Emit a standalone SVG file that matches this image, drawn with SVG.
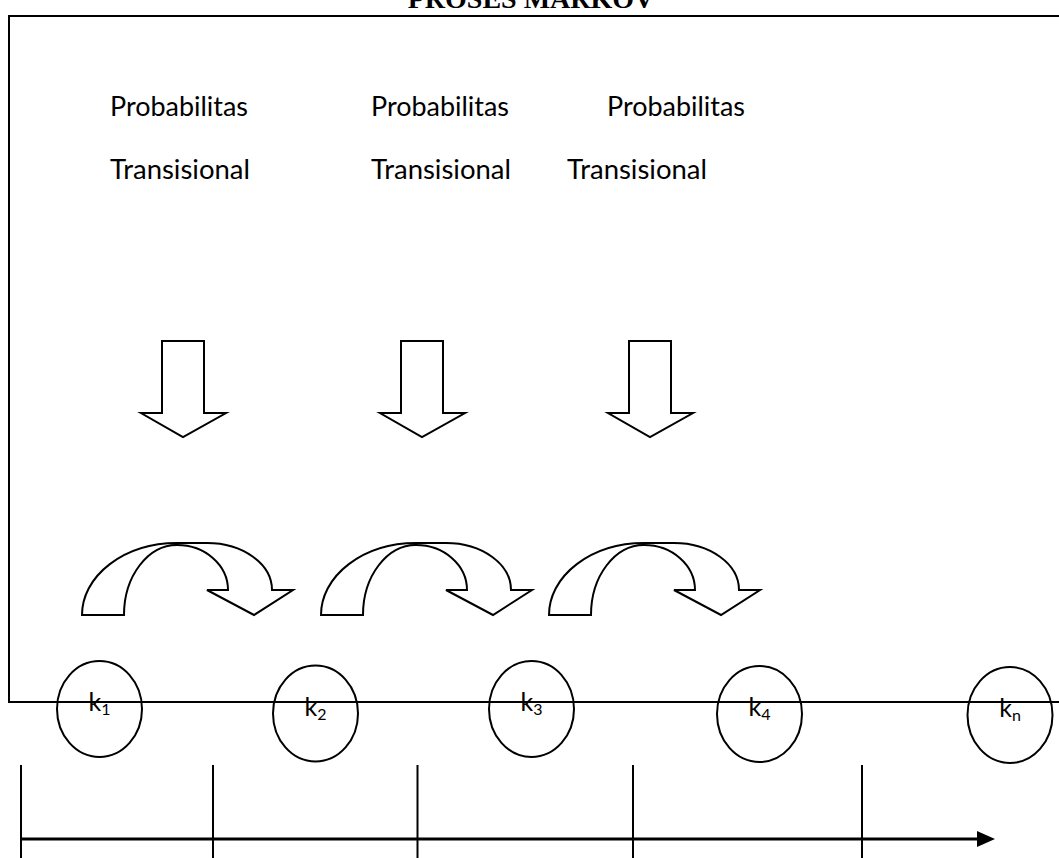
<svg xmlns="http://www.w3.org/2000/svg" width="1059" height="858" viewBox="0 0 1059 858">
<style>
.ln{stroke:#000;stroke-width:2;fill:none}
.shape{stroke:#000;stroke-width:2;fill:#fff;stroke-linejoin:miter}
.lbl{font-family:Lato,"Open Sans","Liberation Sans",sans-serif;font-size:26px;fill:#000}
.k{font-family:Lato,"Open Sans","Liberation Sans",sans-serif;font-size:25px;fill:#000;text-anchor:middle}
.sub{font-size:16px}
.title{font-family:"Liberation Serif","Times New Roman",serif;font-weight:bold;font-size:28px;text-anchor:middle;fill:#000}
</style>
<defs>
<path id="curved" d="M 82,615 A 95,72 0 0 1 177,543 L 207,543 A 65,47 0 0 1 272,590 L 293,590 L 254,615 L 207,590 L 228,590 A 51,45 0 0 0 177,545 A 53,70 0 0 0 124,615 Z"/>
<polygon id="down" points="162,341 204,341 204,413 226,413 183,437 141,413 162,413"/>
<marker id="arr" markerWidth="10" markerHeight="10" refX="9" refY="5" orient="auto" markerUnits="userSpaceOnUse">
<path d="M0,0 L10,5 L0,10 Z" fill="#000"/>
</marker>
</defs>
<rect width="1059" height="858" fill="#fff"/>
<text id="title" class="title" x="531" y="8">PROSES MARKOV</text>
<g id="connectors">
<path class="ln" d="M 1059,16 L 9,16 L 9,702 L 1059,702"/>
<line class="ln" x1="21" y1="765" x2="21" y2="858"/>
<line class="ln" x1="213" y1="765" x2="213" y2="858"/>
<line class="ln" x1="417.5" y1="765" x2="417.5" y2="858"/>
<line class="ln" x1="633" y1="765" x2="633" y2="858"/>
<line class="ln" x1="862" y1="765" x2="862" y2="858"/>
<line x1="21" y1="839" x2="978" y2="839" stroke="#000" stroke-width="3"/>
<polygon points="977,831 995,839 977,847" fill="#000"/>
</g>
<g id="label1">
<text class="lbl" x="110" y="116" textLength="138" lengthAdjust="spacingAndGlyphs">Probabilitas</text>
<text class="lbl" x="110" y="179" textLength="140" lengthAdjust="spacingAndGlyphs">Transisional</text>
</g>
<g id="label2">
<text class="lbl" x="371" y="116" textLength="138" lengthAdjust="spacingAndGlyphs">Probabilitas</text>
<text class="lbl" x="371" y="179" textLength="140" lengthAdjust="spacingAndGlyphs">Transisional</text>
</g>
<g id="label3">
<text class="lbl" x="607" y="116" textLength="138" lengthAdjust="spacingAndGlyphs">Probabilitas</text>
<text class="lbl" x="567" y="179" textLength="140" lengthAdjust="spacingAndGlyphs">Transisional</text>
</g>
<g id="down1"><use href="#down" class="shape"/></g>
<g id="down2"><use href="#down" class="shape" transform="translate(239,0)"/></g>
<g id="down3"><use href="#down" class="shape" transform="translate(467,0)"/></g>
<g id="curve1"><use href="#curved" class="shape"/></g>
<g id="curve2"><use href="#curved" class="shape" transform="translate(239,0)"/></g>
<g id="curve3"><use href="#curved" class="shape" transform="translate(467,0)"/></g>
<g id="k1"><ellipse class="ln" cx="99.5" cy="709" rx="42.5" ry="48"/><text class="k" x="99.5" y="711">k<tspan class="sub" dy="4">1</tspan></text></g>
<g id="k2"><ellipse class="ln" cx="315.5" cy="713.5" rx="42.5" ry="48"/><text class="k" x="315.5" y="716">k<tspan class="sub" dy="4">2</tspan></text></g>
<g id="k3"><ellipse class="ln" cx="531.5" cy="709" rx="42.5" ry="48"/><text class="k" x="531.5" y="711">k<tspan class="sub" dy="4">3</tspan></text></g>
<g id="k4"><ellipse class="ln" cx="759.5" cy="714" rx="42.5" ry="48"/><text class="k" x="759.5" y="716">k<tspan class="sub" dy="4">4</tspan></text></g>
<g id="kn"><ellipse class="ln" cx="1010" cy="715" rx="42.5" ry="48"/><text class="k" x="1010" y="717">k<tspan class="sub" dy="4">n</tspan></text></g>
</svg>
